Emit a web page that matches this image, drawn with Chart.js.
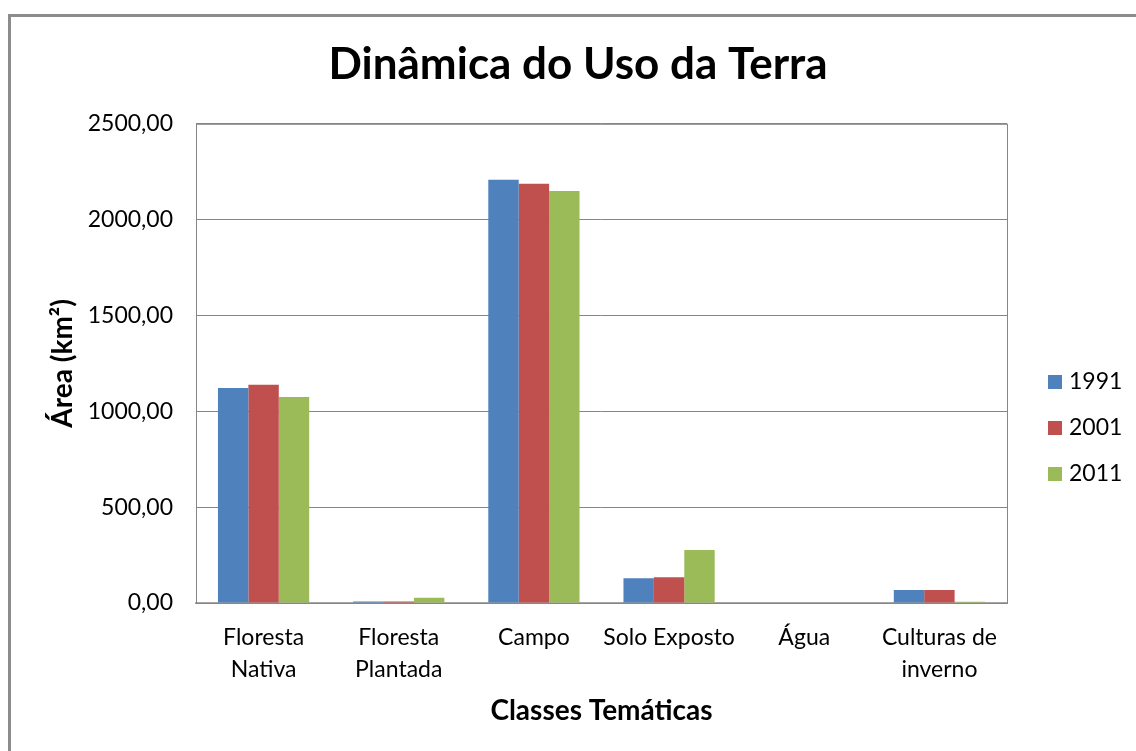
<!DOCTYPE html>
<html lang="pt">
<head>
  <meta charset="UTF-8" />
  <title>Dinâmica do Uso da Terra</title>
  <script src="https://cdn.jsdelivr.net/npm/chart.js"></script>
  <style>
    html, body { margin: 0; padding: 0; background: #fff; overflow: hidden; }
    .frame {
      position: absolute; left: 8px; top: 14px; width: 1200px; height: 800px;
      border-left: 3px solid #8c8c8c; border-top: 3px solid #8c8c8c;
    }
    .chart-box { position: absolute; left: 0; top: 0; width: 1136px; height: 751px; }
  </style>
</head>
<body>
  <div class="frame"></div>
  <div class="chart-box"><canvas id="usoChart"></canvas></div>

  <script>
    const categories = [
      ['Floresta', 'Nativa'],
      ['Floresta', 'Plantada'],
      ['Campo', ''],
      ['Solo Exposto', ''],
      ['Água', ''],
      ['Culturas de', 'inverno']
    ];
    const years = ['1991', '2001', '2011'];
    const area1991 = [1122, 8, 2208, 129, 0, 68];
    const area2001 = [1138, 8, 2187, 134, 0, 68];
    const area2011 = [1075, 28, 2150, 277, 0, 7];
    const yTicks = [0, 500, 1000, 1500, 2000, 2500];

    const colors = ['#4f81bd', '#c0504d', '#9bbb59'];
    const font = 'Lato';

    // legend and plot border drawn by hand, like Excel does it
    const excelLook = {
      id: 'excelLook',
      beforeDatasetsDraw(chart) {
        const { ctx, chartArea: a } = chart;
        ctx.save();
        ctx.strokeStyle = '#868686';
        ctx.lineWidth = 1;
        ctx.strokeRect(a.left + 0.5, a.top + 0.5, a.right - a.left, a.bottom - a.top);
        ctx.restore();
      },
      afterDraw(chart) {
        const { ctx } = chart;
        ctx.save();
        ctx.font = '23px ' + font;
        ctx.textBaseline = 'middle';
        chart.data.datasets.forEach((ds, i) => {
          const y = 382 + i * 46;
          ctx.fillStyle = ds.backgroundColor;
          ctx.fillRect(1048, y - 7, 14, 14);
          ctx.fillStyle = '#000';
          ctx.fillText(ds.label, 1069, y);
        });
        ctx.restore();
      }
    };

    new Chart(document.getElementById('usoChart'), {
      type: 'bar',
      data: {
        labels: categories,
        datasets: [
          { label: years[0], data: area1991, backgroundColor: colors[0] },
          { label: years[1], data: area2001, backgroundColor: colors[1] },
          { label: years[2], data: area2011, backgroundColor: colors[2] }
        ]
      },
      options: {
        responsive: true,
        maintainAspectRatio: false,
        animation: false,
        layout: { padding: { left: 20, right: 0, top: 0, bottom: 14 } },
        datasets: { bar: { categoryPercentage: 0.675, barPercentage: 1 } },
        plugins: {
          legend: { display: false },
          tooltip: { enabled: false },
          title: {
            display: true,
            text: 'Dinâmica do Uso da Terra',
            color: '#000',
            font: { family: font, size: 44, weight: 'bold', lineHeight: 1.2 },
            padding: { top: 38, bottom: 33 }
          }
        },
        scales: {
          x: {
            grid: { display: false },
            border: { color: '#a6a6a6', width: 2 },
            ticks: {
              color: '#000', padding: 11,
              font: { family: font, size: 23, lineHeight: 1.39 },
              maxRotation: 0, autoSkip: false
            },
            title: {
              display: true, text: 'Classes Temáticas', color: '#000',
              font: { family: font, size: 28, weight: 'bold' },
              padding: { top: 4, bottom: 9 }
            },
            afterFit(scale) { scale.height = 134; }
          },
          y: {
            min: 0, max: 2500,
            afterBuildTicks(scale) { scale.ticks = yTicks.map(v => ({ value: v })); },
            grid: { color: '#868686', drawTicks: false },
            border: { display: false },
            ticks: {
              color: '#000', padding: 23,
              font: { family: font, size: 23 },
              callback: v => v.toFixed(2).replace('.', ',')
            },
            title: {
              display: true, text: 'Área (km²)', color: '#000',
              font: { family: font, size: 28, weight: 'bold' },
              padding: { top: 26, bottom: 0 }
            },
            afterFit(scale) { scale.width = 176; }
          },
          // empty right axis that keeps room for the legend
          yRight: {
            position: 'right',
            grid: { display: false },
            border: { display: false },
            ticks: { display: false },
            afterFit(scale) { scale.width = 129; }
          }
        }
      },
      plugins: [excelLook]
    });
  </script>
</body>
</html>
